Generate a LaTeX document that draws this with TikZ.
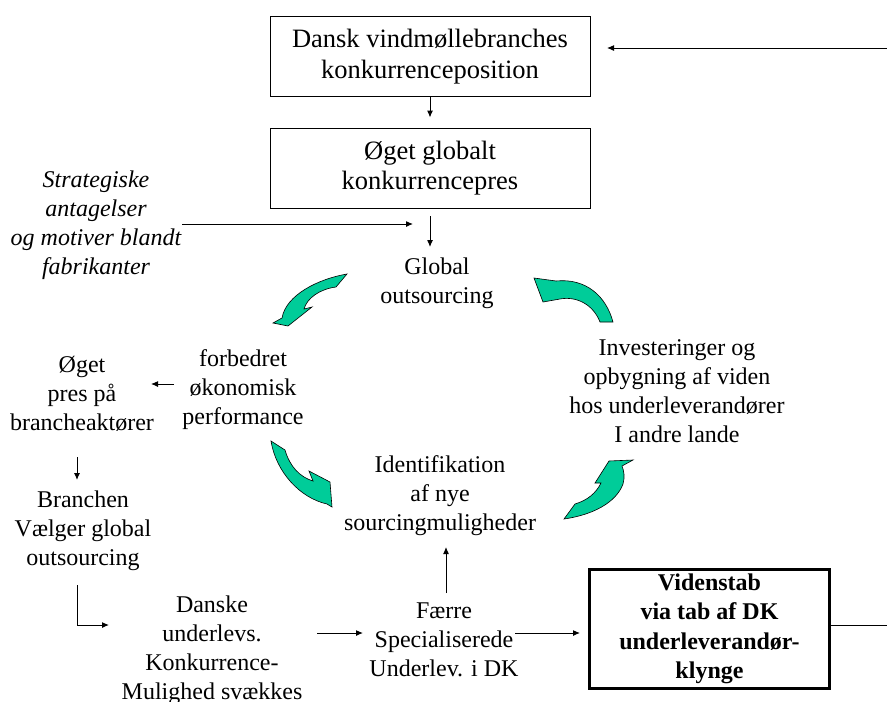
\documentclass[tikz,border=0pt]{standalone}
\usepackage{fontspec}
\setmainfont{Liberation Serif}
\usetikzlibrary{arrows.meta}
\definecolor{cgreen}{RGB}{0,204,153}
\begin{document}
\begin{tikzpicture}[x=1pt,y=-1pt,
  txt/.style={align=center,inner sep=0pt,font=\fontsize{24}{29}\selectfont},
  boxtxt/.style={draw,line width=1pt,align=center,font=\fontsize{26.5}{30.5}\selectfont,minimum width=320pt,minimum height=80pt,inner sep=0pt},
  arr/.style={-{Latex[length=7pt,width=6pt]},line width=1pt},
  ln/.style={line width=1pt},
  curv/.style={fill=cgreen,draw=black,line width=0.6pt,line join=miter}]
\useasboundingbox (0,0) rectangle (887,702);
% nodes
\node[boxtxt] (b1) at (430,56.5) {Dansk vindmøllebranches\\konkurrenceposition};
\node[boxtxt] (b2) at (430,168) {Øget globalt\\konkurrencepres};
\node[txt,font=\fontsize{24}{29}\selectfont\itshape] (strat) at (96,225) {Strategiske\\antagelser\\og motiver blandt\\fabrikanter};
\node[txt] (glob) at (437,283) {Global\\outsourcing};
\node[txt] (forb) at (243,390) {forbedret\\økonomisk\\performance};
\node[txt] (oget) at (82,394) {Øget\\pres på\\brancheaktører};
\node[txt] (bran) at (83,531) {Branchen\\Vælger global\\outsourcing};
\node[txt] (dansk) at (212,650) {Danske\\underlevs.\\Konkurrence-\\Mulighed svækkes};
\node[txt] (faer) at (444,640) {Færre\\Specialiserede\\Underlev. i DK};
\node[txt] (ident) at (440,496) {Identifikation\\af nye\\sourcingmuligheder};
\node[txt] (inv) at (677,391) {Investeringer og\\opbygning af viden\\hos underleverandører\\I andre lande};
\node[draw,line width=3.3pt,minimum width=240pt,minimum height=119pt,align=center,inner sep=0pt,font=\fontsize{24}{29.5}\selectfont\bfseries] (vid) at (709.5,629) {Videnstab\\via tab af DK\\underleverandør-\\klynge};
% coordinates for free ends
\coordinate (tr) at (887,48);
\coordinate (trb) at (607,48);
\coordinate (sa) at (182,224);
\coordinate (sb) at (413,224);
\coordinate (fa) at (174,384);
\coordinate (fb) at (151,384);
\coordinate (oa) at (77,457);
\coordinate (ob) at (77,480);
\coordinate (ba) at (77,585);
\coordinate (bc) at (77,625);
\coordinate (bb) at (109,625);
\coordinate (da) at (317,633);
\coordinate (db) at (363,633);
\coordinate (ua) at (446,593);
\coordinate (ub) at (446,547);
\coordinate (va) at (515,633);
\coordinate (vb) at (580,633);
\coordinate (ra) at (831,625);
\coordinate (rb) at (887,625);
\coordinate (g1) at (430,216);
\coordinate (g2) at (430,247);
% connectors
\draw[arr] (tr) -- (trb);
\draw[arr] (b1.south) -- ([yshift=10pt]b2.north);
\draw[arr] (g1) -- (g2);
\draw[arr] (sa) -- (sb);
\draw[arr] (fa) -- (fb);
\draw[arr] (oa) -- (ob);
\draw[arr] (ba) -- (bc) -- (bb);
\draw[arr] (da) -- (db);
\draw[arr] (ua) -- (ub);
\draw[arr] (va) -- (vb);
\draw[ln] (ra) -- (rb);
% curved arrows
\draw[curv] (347,274) .. controls (318,279) and (286,295) .. (282,318) -- (273,323) -- (288,326) -- (312,307) -- (304,309) .. controls (307,298) and (320,289) .. (336,287) -- cycle;
\draw[curv] (613,322) .. controls (606,296) and (586,278) .. (556,281) -- (534,278) -- (543,302) -- (560,299) .. controls (576,296) and (593,304) .. (600,322) -- cycle;
\draw[curv] (271,441) .. controls (276,472) and (300,498) .. (327,504) -- (332,507) -- (330,482) -- (309,471) -- (313,481) .. controls (300,477) and (290,467) .. (285,450) -- cycle;
\draw[curv] (564,519) .. controls (592,515) and (616,503) .. (623,484) .. controls (625,477) and (624,471) .. (622,466) -- (633,460) -- (609,461) -- (595,483) -- (601,483) .. controls (596,493) and (588,500) .. (575,504) -- cycle;
\end{tikzpicture}
\end{document}
